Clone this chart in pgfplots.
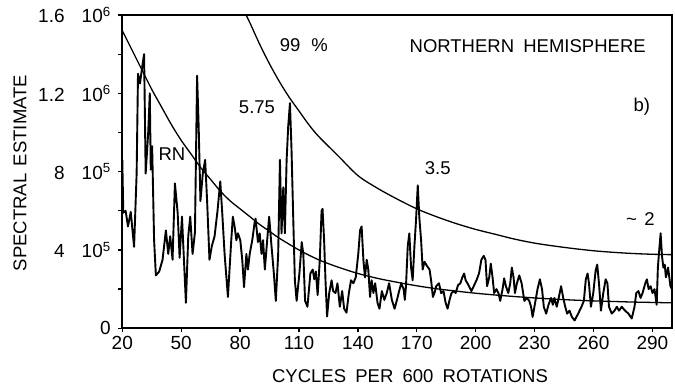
\documentclass[border=0pt]{standalone}
\usepackage{fontspec}
\setmainfont{Liberation Sans}
\usepackage{pgfplots}
\pgfplotsset{compat=1.18}
\begin{document}
\begin{tikzpicture}[font=\fontsize{18.5}{21}\selectfont]
\useasboundingbox (0,0) rectangle (675pt,387pt);
\begin{axis}[
  at={(122.3pt,58.7pt)}, anchor=south west,
  width=549.7pt, height=313.3pt, scale only axis,
  xmin=20, xmax=300, ymin=0, ymax=16,
  axis line style={line width=1.8pt},
  xtick={20,50,80,110,140,170,200,230,260,290},
  xticklabels={20,50,80,110,140,170,200,230,260,290},
  ytick={0,4,8,12,16},
  yticklabels={0,{4\hspace{0.9em}10\textsuperscript{5}},{8\hspace{0.9em}10\textsuperscript{5}},{1.2\hspace{0.9em}10\textsuperscript{6}},{1.6\hspace{0.9em}10\textsuperscript{6}}},
  minor ytick={2,6,10,14},
  tick align=outside, major tick length=4pt, minor tick length=4pt,
  tick style={line width=1.3pt, black},
  xtick pos=lower, ytick pos=left,
  ticklabel style={font=\fontsize{19}{21}\selectfont},
  yticklabel style={xshift=-4pt},
  clip=true,
]
% spectral estimate
\addplot[black, line width=1.9pt, line join=round] coordinates {
(20,8.6)(20.5,5.9)(21.7,6.0)(22.9,5.2)(24.3,5.95)(26.0,4.16)(27.3,7.9)(28.0,13.0)(29.0,12.5)(30.2,13.4)(31.1,14.0)
(31.9,7.9)(33.2,10.0)(34.0,12.0)(34.5,8.1)(35.2,9.3)(36.2,4.5)(37.1,2.7)(38.8,2.9)(40.5,3.5)(42.2,5.0)(43.4,3.8)
(44.4,4.7)(45.6,3.5)(46.8,7.4)(48.2,5.9)(49.2,3.6)(50.4,5.7)(52.4,1.3)(53.6,4.7)(54.6,5.7)(55.8,3.8)(57.0,4.9)
(58.1,12.9)(58.9,10.3)(59.8,6.5)(61.0,7.9)(62.2,8.6)(63.2,6.5)(64.4,3.5)(65.6,4.2)(67.0,4.7)(68.5,6.0)(69.9,7.5)
(70.9,5.9)(72.1,3.8)(73.8,1.6)(75.5,4.5)(76.3,5.7)(77.2,5.2)(78.1,4.5)(78.9,4.85)(80.1,4.5)(81.1,3.5)(82.0,2.1)
(83.2,3.8)(84.0,3.0)(84.9,3.8)(86.2,4.5)(87.4,5.4)(87.9,5.6)(89.1,4.4)(90.0,4.85)(90.9,3.8)(91.7,4.5)(92.6,3.0)
(93.8,4.5)(94.8,5.7)(96.0,4.2)(97.2,2.8)(98.2,1.4)(99.4,3.8)(100.3,8.6)(101.1,4.85)(102.0,7.2)(102.8,4.85)
(103.7,8.6)(104.5,10.3)(105.4,11.5)(106.2,9.1)(107.1,5.5)(107.9,2.45)(108.8,1.4)(110.2,2.8)(111.4,4.4)(112.2,3.8)
(113.1,1.4)(114.3,1.1)(115.8,2.8)(117.0,3.0)(117.8,2.5)(118.6,2.9)(119.5,1.7)(120.6,3.5)(121.5,6.0)(122.0,6.1)
(122.8,4.5)(123.5,2.45)(124.3,0.6)(125.4,1.8)(126.6,2.45)(127.4,1.9)(128.6,1.8)(129.6,2.3)(130.8,1.1)(132.0,1.9)
(133.0,1.0)(134.2,0.8)(135.4,1.8)(136.5,2.45)(137.7,2.3)(138.9,2.6)(140.2,3.8)(141.1,5.0)(141.9,5.2)(142.8,3.5)
(143.6,2.6)(144.5,3.5)(145.3,3.0)(146.2,1.6)(147.0,2.45)(147.9,1.8)(148.8,2.3)(150.0,1.3)(151.0,1.0)(152.2,1.9)
(153.5,1.45)(154.7,1.8)(155.9,2.3)(157.3,1.45)(158.7,1.0)(159.9,1.45)(161.0,1.9)(162.1,2.3)(163.3,2.0)(163.9,1.45)
(164.5,2.15)(165.4,4.2)(166.2,4.85)(167.1,3.1)(167.9,2.45)(168.8,4.2)(169.6,5.5)(170.5,7.3)(171.3,5.65)(172.2,4.5)
(173.0,3.0)(173.9,3.4)(175.1,3.2)(176.5,3.0)(177.3,2.45)(178.2,1.6)(179.0,1.8)(179.9,2.15)(181.3,2.3)(182.4,1.8)
(183.6,1.9)(184.7,1.3)(185.7,1.0)(186.7,1.45)(187.7,1.8)(188.8,1.9)(189.8,1.8)(191.0,2.2)(192.2,2.3)(193.2,2.6)
(194.1,2.8)(194.9,2.45)(195.8,2.3)(196.6,2.15)(197.8,1.9)(199.0,2.15)(200.4,2.45)(201.7,2.8)(202.9,3.5)(204.1,3.7)
(205.0,3.5)(205.8,2.15)(206.9,2.6)(207.7,3.3)(208.6,2.6)(209.4,1.8)(210.6,2.0)(211.6,1.8)(212.5,1.4)(213.7,2.0)
(214.5,2.55)(215.4,2.15)(216.6,1.8)(217.6,2.3)(218.4,3.1)(219.3,2.6)(220.0,1.8)(221.0,2.3)(222.2,2.7)(223.4,2.3)
(224.8,1.4)(226.1,1.55)(227.3,1.4)(228.2,1.1)(229.0,0.58)(230.1,1.2)(231.5,2.0)(232.7,2.5)(233.8,2.0)(234.7,1.1)
(235.9,0.75)(237.1,1.2)(238.4,1.55)(239.3,1.2)(240.1,1.55)(241.3,1.1)(242.3,1.55)(243.5,2.15)(244.6,1.55)(245.6,1.1)
(246.6,0.75)(247.8,0.9)(249.0,0.58)(250.4,0.4)(252.2,0.75)(253.9,1.1)(255.1,1.4)(256.1,2.5)(257.0,2.8)(257.7,2.3)
(258.7,1.1)(259.9,1.8)(261.1,2.95)(261.9,3.25)(262.8,2.3)(263.8,0.9)(265.0,1.8)(266.2,2.5)(267.1,2.3)(267.9,1.1)
(269.3,0.75)(270.7,0.9)(271.9,1.1)(273.0,0.9)(274.4,1.1)(276.1,0.9)(277.8,0.75)(279.5,0.5)(280.9,1.1)(281.8,1.8)
(282.9,1.9)(284.0,1.55)(285.0,1.8)(286.4,2.3)(287.2,2.5)(288.1,2.0)(289.1,2.15)(290.1,1.8)(291.1,2.0)(292.2,1.2)
(292.8,3.1)(293.5,4.0)(294.2,4.85)(294.9,3.7)(295.6,3.1)(296.3,3.25)(296.9,2.6)(298.0,3.1)(299.2,2.15)(300.0,2.0)
};
% red noise curve
\addplot[black, line width=1.3pt, smooth] coordinates {
(20,15.2)(25,14.2)(30,13.2)(35,12.2)(40,11.3)(45,10.4)(50,9.6)(55,8.9)(60,8.2)(65,7.6)(70,7.0)(75,6.5)
(80,6.1)(85,5.7)(90,5.3)(95,4.95)(100,4.6)(110,4.0)(120,3.5)(130,3.12)(140,2.8)(150,2.55)(160,2.35)(170,2.17)
(180,2.02)(190,1.9)(200,1.79)(210,1.7)(220,1.62)(230,1.55)(240,1.49)(250,1.44)(260,1.4)(270,1.37)(280,1.34)
(290,1.32)(300,1.3)
};
% 99 percent curve
\addplot[black, line width=1.3pt, smooth] coordinates {
(83,16.0)(85,15.6)(90,14.5)(95,13.5)(100,12.6)(105,11.8)(110,11.1)(115,10.4)(120,9.8)(130,8.8)(140,7.8)
(150,7.15)(160,6.6)(170,6.1)(180,5.7)(190,5.35)(200,5.05)(210,4.8)(220,4.55)(230,4.35)(240,4.2)(250,4.07)
(260,3.96)(270,3.88)(280,3.82)(290,3.78)(300,3.76)
};
\node at (axis cs:112.5,14.47) {99\hspace{0.6em}\%};
\node at (axis cs:226.5,14.4) {NORTHERN\hspace{0.5em}HEMISPHERE};
\node at (axis cs:284.6,11.3) {b)};
\node at (axis cs:88.6,11.3) {5.75};
\node at (axis cs:45.3,8.9) {RN};
\node at (axis cs:180.7,8.2) {3.5};
\node at (axis cs:283.9,5.58) {\textasciitilde\hspace{0.4em}2};
\end{axis}
\node[rotate=90] at (20pt,214pt) {SPECTRAL\hspace{0.4em}ESTIMATE};
\node at (410pt,11pt) {CYCLES\hspace{0.5em}PER\hspace{0.5em}600\hspace{0.5em}ROTATIONS};
\end{tikzpicture}
\end{document}
